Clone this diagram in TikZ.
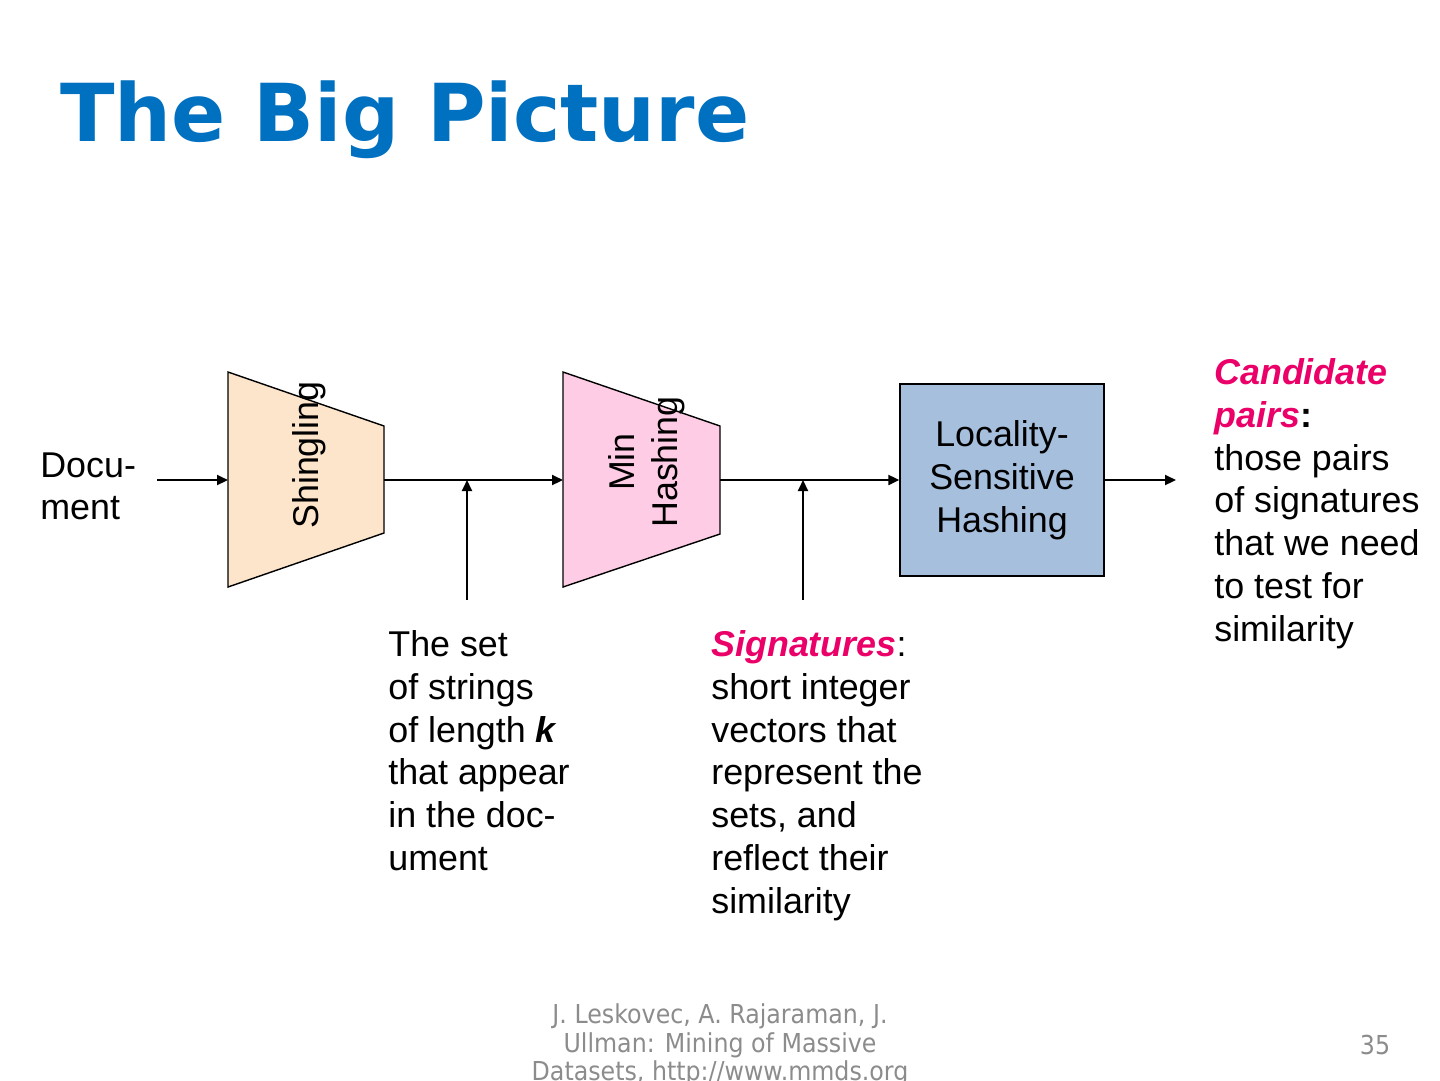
\documentclass[tikz,border=0pt]{standalone}
\usepackage{fontspec}
\setmainfont{Liberation Sans}
\newfontfamily\titlefont{DejaVu Sans}
\newfontfamily\footfont{DejaVu Sans}
\usetikzlibrary{arrows.meta, positioning}

\definecolor{titleblue}{RGB}{0,112,192}
\definecolor{hot}{RGB}{234,0,104}
\definecolor{peach}{RGB}{253,229,204}
\definecolor{pinkfill}{RGB}{255,204,230}
\definecolor{lshblue}{RGB}{166,191,221}
\definecolor{footgray}{RGB}{140,140,140}

\newcommand{\bodyfont}{\fontsize{20.4}{24.4}\selectfont}
\newcommand{\hl}[1]{\textcolor{hot}{\textit{\textbf{#1}}}}

\begin{document}
\begin{tikzpicture}[x=0.02cm, y=-0.02cm]
    \tikzstyle{arr} = [-{Triangle[length=0.22cm, width=0.2cm]}, line width=1.2pt]
    \tikzstyle{stage} = [draw, line width=0.8pt]
    \tikzstyle{txt} = [inner sep=0pt, anchor=north west, align=left, font=\bodyfont]
    \tikzstyle{lbl} = [inner sep=0pt, rotate=90, align=center, font=\bodyfont]
    \tikzstyle{foottxt} = [inner sep=0pt, yscale=1.1, text=footgray, font=\footfont\fontsize{13.5}{14.8}\selectfont]

    \useasboundingbox[fill=white] (0,0) rectangle (1440,1080);

    \node[anchor=base west, inner sep=0pt, text=titleblue, font=\titlefont\bfseries\fontsize{45.5}{54}\selectfont] (title) at (60,141) {The Big Picture};

    % shingling stage
    \draw[stage, fill=peach] (228,372) -- (384,426) -- (384,533) -- (228,587) -- cycle;
    \coordinate (shin-in) at (228,480);
    \coordinate (shin-out) at (384,480);
    \node[lbl] (shin) at (309,455) {Shingling};

    % min hashing stage
    \draw[stage, fill=pinkfill] (563,372) -- (720,426) -- (720,534) -- (563,587) -- cycle;
    \coordinate (minh-in) at (563,480);
    \coordinate (minh-out) at (720,480);
    \node[lbl] (minh) at (647,462) {Min\\Hashing};

    % lsh stage
    \node[stage, fill=lshblue, minimum width=4.08cm, minimum height=3.84cm, align=center, font=\bodyfont] (lsh) at (1002,480) {Locality-\\Sensitive\\Hashing};

    \node[txt] (doc) at (40,452) {Docu-\\ment};
    \coordinate (doc-out) at (157,480);

    \node[txt] (cand) at (1214,358) {\hl{Candidate}\\\hl{pairs}\textbf{:}\\those pairs\\of signatures\\that we need\\to test for\\similarity};
    \coordinate (cand-in) at (1176,480);

    \node[txt] (sets) at (388,630) {The set\\of strings\\of length \textit{\textbf{k}}\\that appear\\in the doc-\\ument};
    \node[txt] (sigs) at (711,630) {\hl{Signatures}:\\short integer\\vectors that\\represent the\\sets, and\\reflect their\\similarity};
    \coordinate (sets-ptr) at (467,600);
    \coordinate (sigs-ptr) at (803,600);

    \draw[arr] (doc-out) -- (shin-in);
    \draw[arr] (shin-out) -- (minh-in);
    \draw[arr] (minh-out) -- (lsh.west);
    \draw[arr] (lsh.east) -- (cand-in);
    \draw[arr] (sets-ptr) -- (sets-ptr |- shin-out);
    \draw[arr] (sigs-ptr) -- (sigs-ptr |- minh-out);

    % footer
    \node[foottxt, align=center] (foot) at (720,1045) {J. Leskovec, A. Rajaraman, J.\\Ullman: Mining of Massive\\Datasets, http://www.mmds.org};
    \node[foottxt] (page) at (1375,1045) {35};
\end{tikzpicture}
\end{document}
